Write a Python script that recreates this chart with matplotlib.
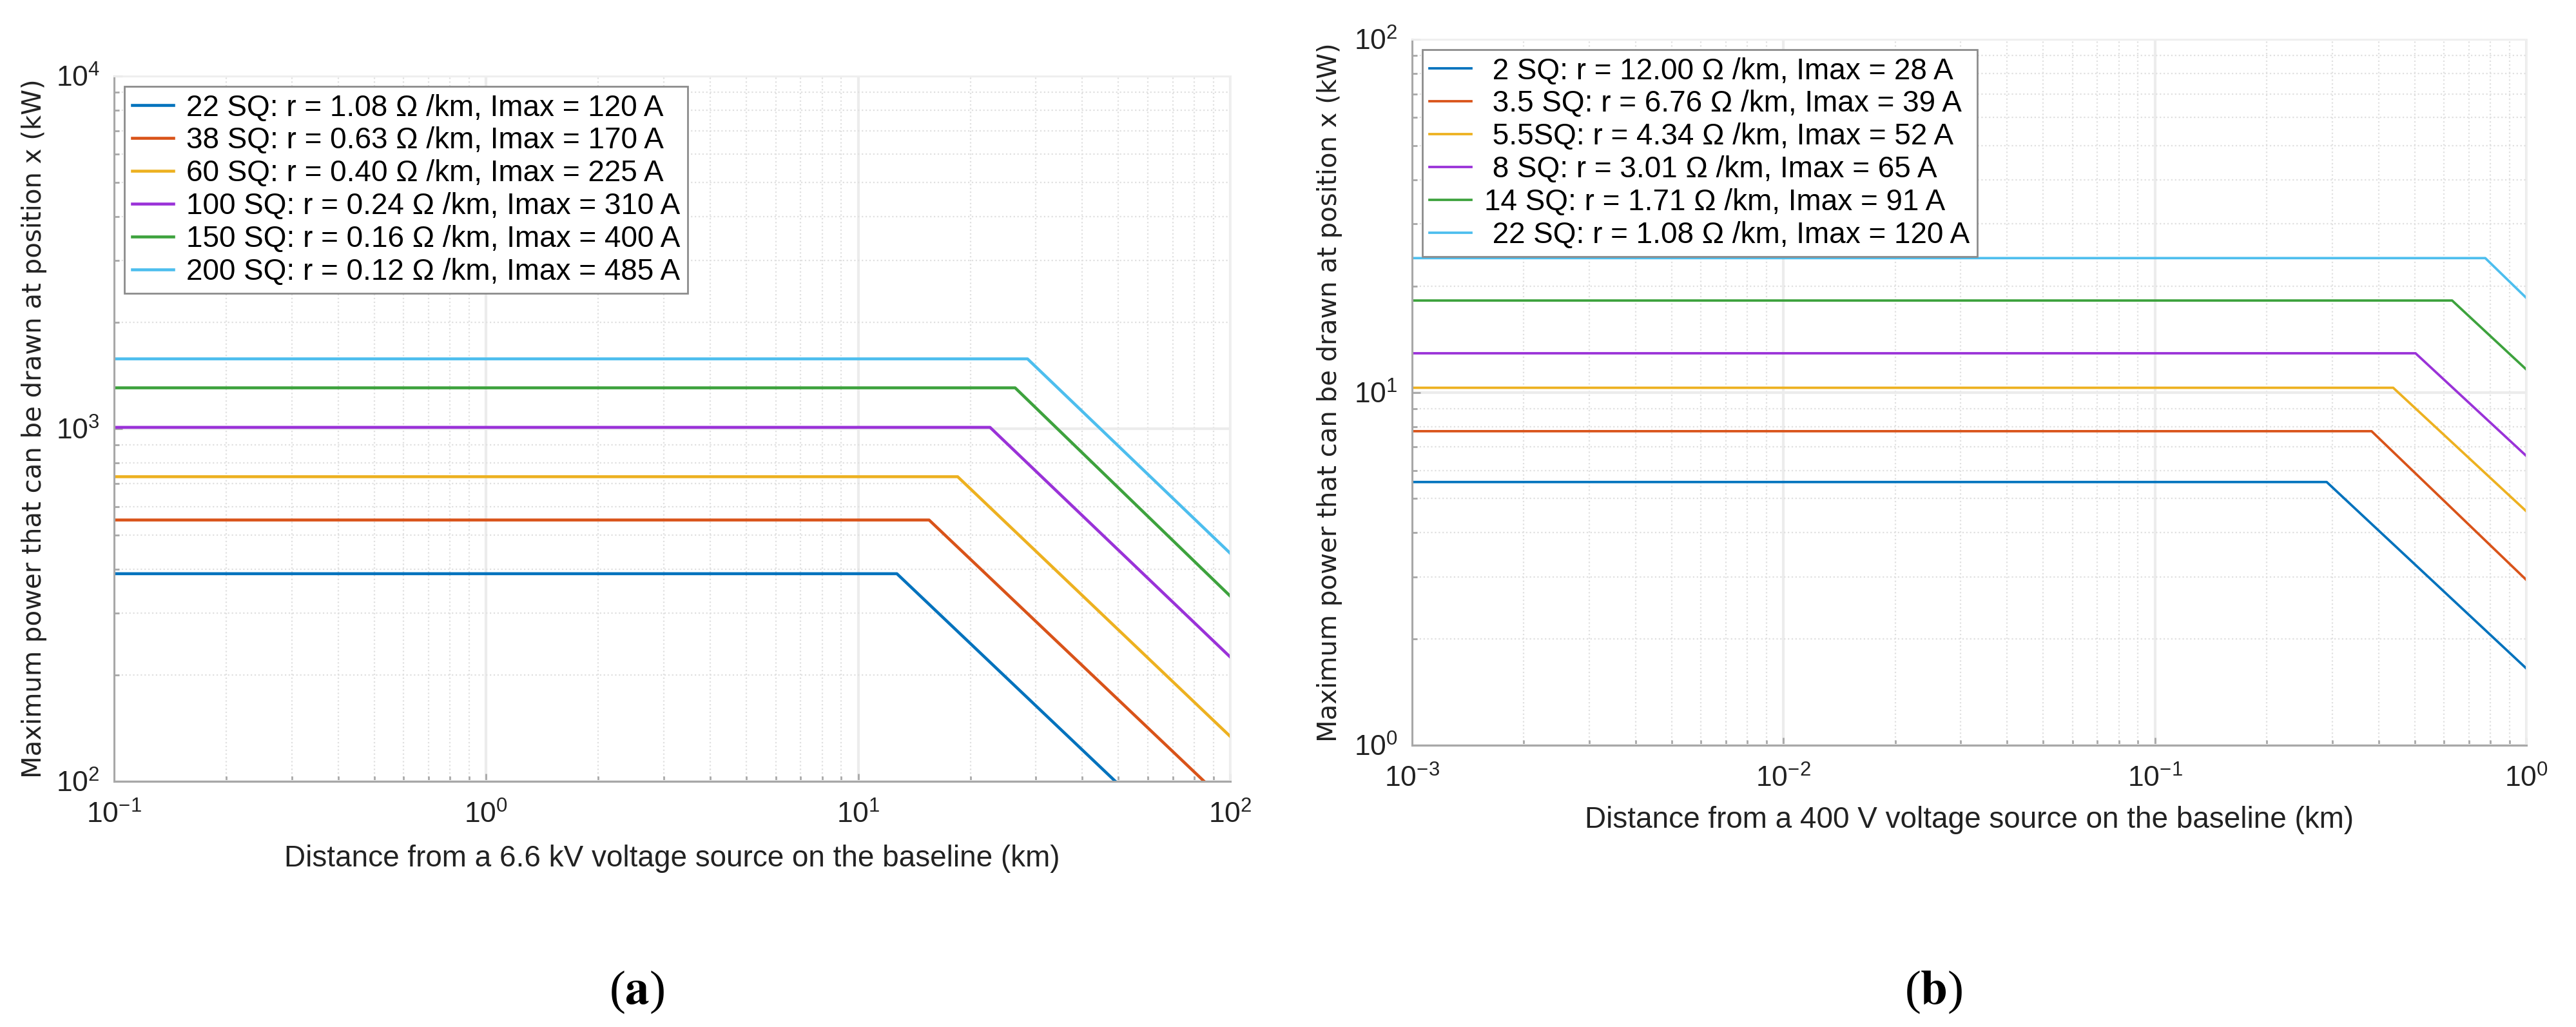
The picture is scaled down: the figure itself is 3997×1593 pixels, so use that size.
import numpy as np
import matplotlib
matplotlib.use("Agg")
import matplotlib.pyplot as plt
from matplotlib.ticker import LogLocator, NullFormatter

plt.rcParams['font.family'] = ['Liberation Sans', 'DejaVu Sans']
plt.rcParams['mathtext.fontset'] = 'custom'
plt.rcParams['mathtext.rm'] = 'Liberation Sans'
plt.rcParams['mathtext.it'] = 'Liberation Sans:italic'
plt.rcParams['mathtext.bf'] = 'Liberation Sans:bold'

# ---- data ----
# (a) 6.6 kV line, x in km, power in kW
labels_a = ['22 SQ: r = 1.08 Ω /km, Imax = 120 A',
            '38 SQ: r = 0.63 Ω /km, Imax = 170 A',
            '60 SQ: r = 0.40 Ω /km, Imax = 225 A',
            '100 SQ: r = 0.24 Ω /km, Imax = 310 A',
            '150 SQ: r = 0.16 Ω /km, Imax = 400 A',
            '200 SQ: r = 0.12 Ω /km, Imax = 485 A']
flat_a = [388, 551, 731, 1009, 1306, 1578]     # kW, plateau
knee_a = [12.7, 15.5, 18.5, 22.6, 26.4, 28.5]  # km where it starts to drop
end_a = [49, 85, 134, 225, 335, 443]           # kW at 100 km
xlim_a = (0.1, 100)
ylim_a = (100, 10000)

# (b) 400 V line
labels_b = [' 2 SQ: r = 12.00 Ω /km, Imax = 28 A',
            ' 3.5 SQ: r = 6.76 Ω /km, Imax = 39 A',
            ' 5.5SQ: r = 4.34 Ω /km, Imax = 52 A',
            ' 8 SQ: r = 3.01 Ω /km, Imax = 65 A',
            '14 SQ: r = 1.71 Ω /km, Imax = 91 A',
            ' 22 SQ: r = 1.08 Ω /km, Imax = 120 A']
flat_b = [5.57, 7.76, 10.3, 12.9, 18.2, 24.0]
knee_b = [0.29, 0.383, 0.438, 0.503, 0.631, 0.775]
end_b = [1.65, 2.94, 4.6, 6.6, 11.6, 18.5]      # kW at 1 km
xlim_b = (0.001, 1)
ylim_b = (1, 100)

colors = ['#0072BD', '#D95319', '#EDB120', '#9A32D8', '#3DA23D', '#4DBEEE']


def style_axes(ax):
    ax.set_xscale('log')
    ax.set_yscale('log')
    ax.xaxis.set_minor_locator(LogLocator(base=10, subs=np.arange(2, 10)))
    ax.yaxis.set_minor_locator(LogLocator(base=10, subs=np.arange(2, 10)))
    ax.xaxis.set_minor_formatter(NullFormatter())
    ax.yaxis.set_minor_formatter(NullFormatter())
    ax.grid(True, which='major', color='#ececec', linewidth=3, linestyle='-')
    ax.grid(True, which='minor', color='#e0e0e0', linewidth=1.6, linestyle=':')
    ax.set_axisbelow(True)
    for s in ['left', 'bottom']:
        ax.spines[s].set_color('#a8a8a8')
        ax.spines[s].set_linewidth(2.2)
    for s in ['top', 'right']:
        ax.spines[s].set_color('#efefef')
        ax.spines[s].set_linewidth(2)
    ax.tick_params(which='both', direction='in', color='#a8a8a8', width=2,
                   labelsize=32, labelcolor='#222222')
    ax.tick_params(which='major', length=9)
    ax.tick_params(which='minor', length=6)
    ax.tick_params(axis='x', which='major', pad=22)
    ax.tick_params(axis='y', which='major', pad=16)


def draw_panel(ax, labels, flat, knee, end, xlim, ylim, lw, xlabel):
    for i in range(len(labels)):
        xs = [xlim[0], knee[i], xlim[1]]
        ys = [flat[i], flat[i], end[i]]
        ax.plot(xs, ys, color=colors[i], linewidth=lw, label=labels[i],
                solid_joinstyle='round')
    style_axes(ax)
    ax.set_xlim(*xlim)
    ax.set_ylim(*ylim)
    ax.set_xlabel(xlabel, fontsize=33, color='#222222')
    ax.set_ylabel('Maximum power that can be drawn at position x (kW)',
                  fontsize=29, family='DejaVu Sans', color='#222222')
    leg = ax.legend(loc='upper left', fontsize=33, labelspacing=0.15,
                    handlelength=1.4, handletextpad=0.45, borderpad=0.25,
                    borderaxespad=0.35, fancybox=False, framealpha=1,
                    edgecolor='#8c8c8c')
    leg.get_frame().set_linewidth(2)
    for line in leg.get_lines():
        line.set_linewidth(lw)


fig = plt.figure(figsize=(39.98, 15.93), dpi=100)
ax1 = fig.add_axes([0.0443, 0.2392, 0.4332, 0.6867])
ax2 = fig.add_axes([0.5480, 0.2743, 0.4325, 0.6874])

draw_panel(ax1, labels_a, flat_a, knee_a, end_a, xlim_a, ylim_a, 3.3,
           'Distance from a 6.6 kV voltage source on the baseline (km)')
draw_panel(ax2, labels_b, flat_b, knee_b, end_b, xlim_b, ylim_b, 2.7,
           'Distance from a 400 V voltage source on the baseline (km)')

ax1.yaxis.set_label_coords(-0.060, 0.5)
ax2.yaxis.set_label_coords(-0.0625, 0.5)
ax1.xaxis.set_label_coords(0.5, -0.09)
ax2.xaxis.set_label_coords(0.5, -0.086)

fig.text(0.2471, 0.034, r'($\mathbf{a}$)', family='Liberation Serif',
         math_fontfamily='stix', fontsize=54, ha='center', va='center')
fig.text(0.7504, 0.034, r'($\mathbf{b}$)', family='Liberation Serif',
         math_fontfamily='stix', fontsize=54, ha='center', va='center')

fig.savefig('out.png', dpi=100)
